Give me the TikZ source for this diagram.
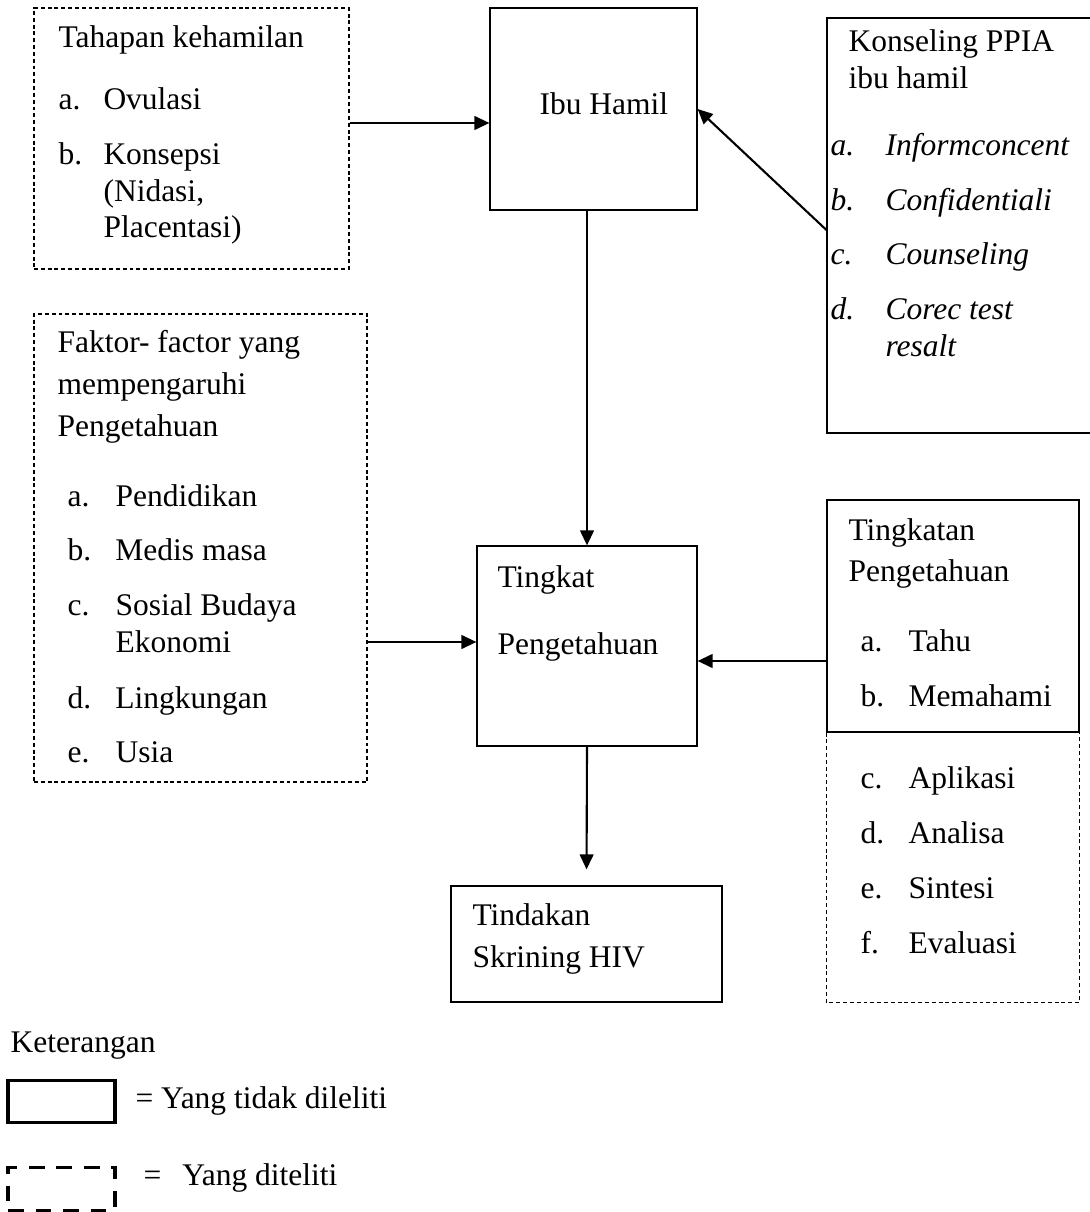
\documentclass[tikz,border=0pt]{standalone}
\usepackage{fontspec}
\setmainfont{Liberation Serif}
\usetikzlibrary{fit,arrows.meta}
\newlength{\pxl}
\setlength{\pxl}{0.381pt}

\begin{document}
\begin{tikzpicture}[x=0.381pt, y=-0.381pt]
% Define styles
\tikzstyle{solidbox} = [rectangle, draw, line width=0.45pt, inner sep=0pt]
\tikzstyle{dashbox} = [rectangle, draw, line width=0.4pt, dash pattern=on 1.5pt off 1.1pt, inner sep=0pt]
\tikzstyle{txt} = [anchor=base west, inner sep=0pt, font=\fontsize{12}{14}\selectfont]
\tikzstyle{conn} = [line width=0.8pt, -{Triangle[length=5.7pt, width=5.2pt]}]

\useasboundingbox (0,0) rectangle (1089,1212);

% Boxes
\node [dashbox, fit={(34,8) (349,269)}] (tahapan) {};
\node [solidbox, fit={(490,8) (697,210)}] (ibu) {};
\node [solidbox, fit={(827,18) (1095,433)}] (konseling) {};
\node [dashbox, fit={(34,314) (367,782)}] (faktor) {};
\node [solidbox, fit={(477,546) (697,746)}] (tingkat) {};
\node [solidbox, fit={(827,500) (1079,732)}] (tingkatan) {};
\draw [dashbox] (tingkatan.south west) -- ++(0,270) -| (tingkatan.south east);
\node [solidbox, fit={(451,886) (722,1002)}] (tindakan) {};

% Texts
\node [txt] (tahapantext) at (58,48) {\begin{tabular}[t]{@{}p{45\pxl}@{}l@{}}
\multicolumn{2}{@{}l@{}}{Tahapan kehamilan}\\[25\pxl]
a. & Ovulasi\\[18\pxl]
b. & Konsepsi\\
 & (Nidasi,\\
 & Placentasi)
\end{tabular}};
\node [txt] (ibutext) at (539,115) {Ibu Hamil};
\node [txt] (konselingtext) at (830,52) {\begin{tabular}[t]{@{}p{55\pxl}@{}l@{}}
\multicolumn{2}{@{\hspace{18\pxl}}l@{}}{Konseling PPIA}\\
\multicolumn{2}{@{\hspace{18\pxl}}l@{}}{ibu hamil}\\[30\pxl]
\textit{a.} & \textit{Informconcent}\\[18\pxl]
\textit{b.} & \textit{Confidentiali}\\[18\pxl]
\textit{c.} & \textit{Counseling}\\[18\pxl]
\textit{d.} & \textit{Corec test}\\
 & \textit{resalt}
\end{tabular}};
\node [txt] (faktortext) at (57,353) {\begin{tabular}[t]{@{\hspace{10\pxl}}p{48\pxl}@{}l@{}}
\multicolumn{2}{@{}l@{}}{Faktor- factor yang}\\[5\pxl]
\multicolumn{2}{@{}l@{}}{mempengaruhi}\\[5\pxl]
\multicolumn{2}{@{}l@{}}{Pengetahuan}\\[33\pxl]
a. & Pendidikan\\[18\pxl]
b. & Medis masa\\[18\pxl]
c. & Sosial Budaya\\
 & Ekonomi\\[19\pxl]
d. & Lingkungan\\[18\pxl]
e. & Usia
\end{tabular}};
\node [txt] (tingkattext) at (497,587) {\begin{tabular}[t]{@{}l@{}}
Tingkat\\[31\pxl]
Pengetahuan
\end{tabular}};
\node [txt] (tingkatantext) at (848,540) {\begin{tabular}[t]{@{\hspace{12\pxl}}p{48\pxl}@{}l@{}}
\multicolumn{2}{@{}l@{}}{Tingkatan}\\[5\pxl]
\multicolumn{2}{@{}l@{}}{Pengetahuan}\\[33\pxl]
a. & Tahu\\[18\pxl]
b. & Memahami\\[46\pxl]
c. & Aplikasi\\[18\pxl]
d. & Analisa\\[18\pxl]
e. & Sintesi\\[18\pxl]
f. & Evaluasi
\end{tabular}};
\node [txt] (tindakantext) at (472,925) {\begin{tabular}[t]{@{}l@{}}
Tindakan\\[6\pxl]
Skrining HIV
\end{tabular}};

% Connections
\draw [conn] (tahapan.east |- 0,123) -- (ibu.west |- 0,123);
\draw [conn] (konseling.west |- 0,230) -- (ibu.east);
\draw [conn] (ibu.south -| tingkat.north) -- (tingkat.north);
\draw [conn] (faktor.east |- 0,642) -- (tingkat.west |- 0,642);
\draw [conn] (tingkatan.west |- 0,661) -- (tingkat.east |- 0,661);
\draw [conn, shorten >=6.1pt] (tingkat.south) -- (tindakan.north);

% Keterangan
\node [txt] (keterangan) at (10,1052) {Keterangan};
\node [solidbox, line width=1.15pt, fit={(8,1080) (115,1122)}] (keysolid) {};
\node [txt] (keysolidtext) at (135,1108) {= Yang tidak dileliti};
\node [dashbox, line width=1.15pt, dash pattern=on 6pt off 4.5pt, fit={(8,1167) (115,1210)}] (keydash) {};
\node [txt] (keydashtext) at (143,1185) {=\hspace{21\pxl}Yang diteliti};

\end{tikzpicture}
\end{document}
